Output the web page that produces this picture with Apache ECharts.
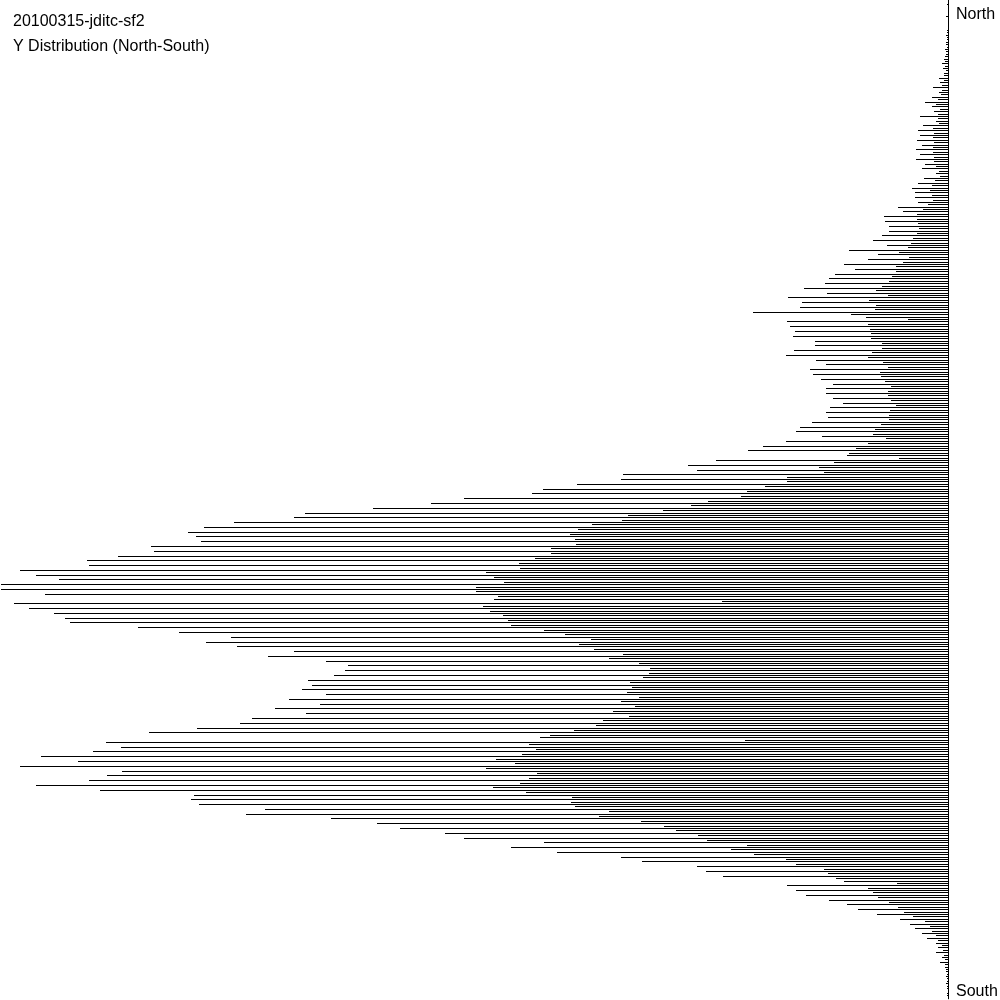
<!DOCTYPE html>
<html>
<head>
<meta charset="utf-8">
<script src="https://cdn.jsdelivr.net/npm/echarts@6/dist/echarts.min.js"></script>
<style>html,body{margin:0;padding:0;background:#fff}#c{width:1000px;height:1000px}</style>
</head>
<body>
<div id="c"></div>
<script>
var titleLine1 = "20100315-jditc-sf2";
var titleLine2 = "Y Distribution (North-South)";
var topLabel = "North";
var bottomLabel = "South";

// counts per Y bin, from north (top) to south (bottom)
var binsNorth = [0,1,0,0,0,0,2,0,0,0,0,0,1,1,2,1,1,2,2,1,3,2,2,3,4,3,
6,3,5,2,4,4,9,4,8,6,15,6,9,7,16,10,23,12,16,8,14,10,28,10,12,9,25,15,30,14,28,15,31,14,26,15,32,15,28,14,32,14,23,12,26,9,12,8,24,13,30,16,36,18,33,16,33,15,30,20,50,25,45,31,64,31,63,30,59,29,59,31,66,35,75,37,61,40,99,49,70,39,80,45,104,52,93,52,113,56,119,59,123,66,144,72,121,60,160];
var binsUpper = [79,146,72,148,73,195,97,82,40,161,80,158,78,153,77,155,77,133,66,133,66,154,76,162,80,132,65,122,60,138,68,135,67,127,63,115,57,122,60,122,60,115,57,105,52,118,58,122,59,120,59,136,67,148,73,152,75,126,62,162,80,185,92,200,99,101,49,232,
114,260,129,251,124,325,161,327,161,371,183,405,201,416,207,484,240,517,257,575,285,643,320,654,326,714,356,744,370,760,378,752,373,747,372,797,397,794,397,830,413,861];
var binsLower = [429,859,428,928,462,912,454,889,444,947,472,947,472,903,450,454,226,934,465,919,458,894,445,883,440,878,437,810,404,769,383,717,357,742,369,711,354,654,325,680,339,622,
309,600,298,603,299,614,305,640,318,636,316,646,321,622,309,659,327,628,313,673,335,642,319,696,345,708,352,751,374,799,398,408,203,842,419,827,412,855,426,907,452,870];
var binsSouth = [433,928,462,826,411,841,419,859,428,912,455,848,422,754,376,757,377,749,373,683,339,702,349,617,307,571,284,548,272,503,250,484,241,404,201,437,217,391,194,327,162,306,152,251,
124,242,120,225,112,104,51,161,80,152,75,142,70,119,59,101,50,90,44,71,35,48,23,38,18,33,16,26,12,21,10,12,6,10,5,12,4,6,3,8,3,3,2,2,1,2,1,1,2,1,1,0,1,1,0];

var counts = binsNorth.concat(binsUpper, binsLower, binsSouth);
var categories = counts.map(function (v, i) { return String(i); });
var seriesData = counts.map(function (v, i) { return [v, i]; });

var chart = echarts.init(document.getElementById('c'), null, {renderer: 'canvas'});
var FONT = '16px "Liberation Sans", Arial, sans-serif';
chart.setOption({
  animation: false,
  backgroundColor: '#ffffff',
  grid: {left: 0, right: 52, top: -1.2, bottom: 1.2},
  xAxis: {
    type: 'value', min: 0, max: 948, inverse: true, show: false
  },
  yAxis: {
    type: 'category', data: categories, inverse: true, position: 'right',
    axisLine: {show: true, onZero: false, lineStyle: {color: '#000', width: 1}},
    axisTick: {show: false}, axisLabel: {show: false}, splitLine: {show: false}
  },
  series: [{
    type: 'custom',
    data: seriesData,
    encode: {x: 0, y: 1},
    renderItem: function (params, api) {
      var v = api.value(0), c = api.value(1);
      var p0 = api.coord([0, c]);
      var p1 = api.coord([v, c]);
      var y = Math.round(p0[1]);
      return {
        type: 'rect',
        shape: {x: Math.round(p1[0]), y: y, width: Math.round(p0[0]) - Math.round(p1[0]), height: 1},
        style: {fill: '#000'}
      };
    }
  }],
  graphic: [
    {type: 'text', left: 13, top: 14, style: {text: titleLine1, font: FONT, fill: '#000'}},
    {type: 'text', left: 13, top: 39, style: {text: titleLine2, font: FONT, fill: '#000'}},
    {type: 'text', left: 956, top: 7, style: {text: topLabel, font: FONT, fill: '#000'}},
    {type: 'text', left: 956, top: 984, style: {text: bottomLabel, font: FONT, fill: '#000'}}
  ]
});
</script>
</body>
</html>
